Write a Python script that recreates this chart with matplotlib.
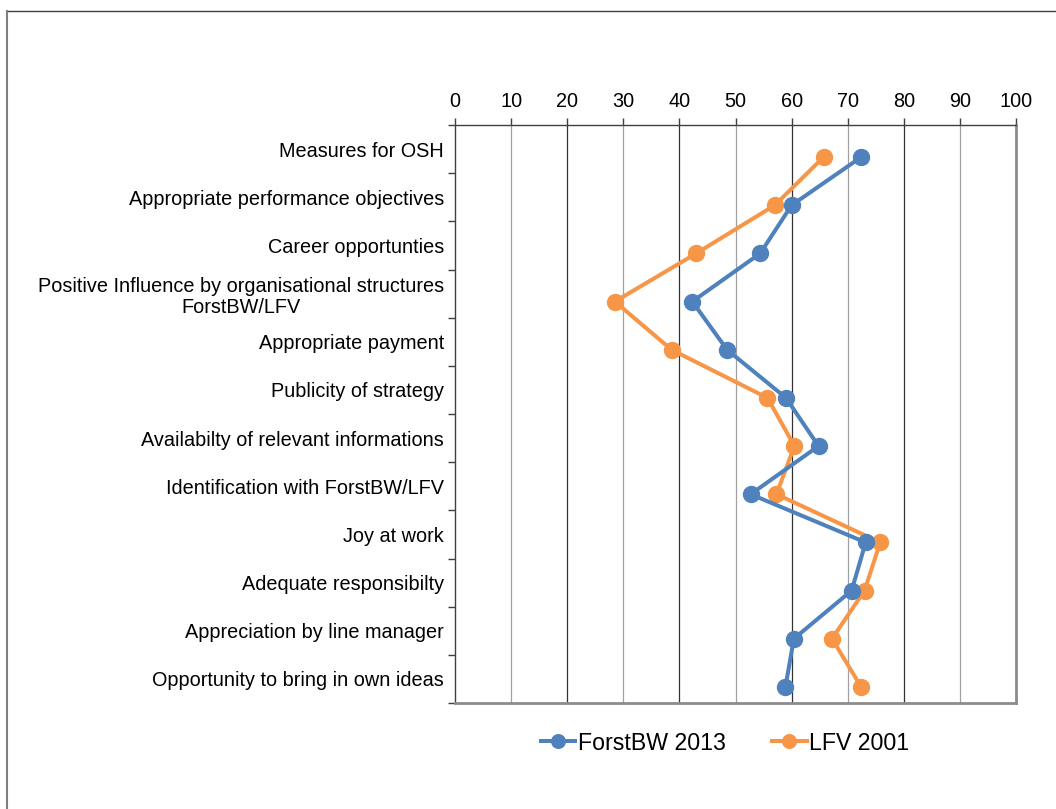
import matplotlib
matplotlib.use("Agg")
import matplotlib.pyplot as plt
from matplotlib.lines import Line2D
import numpy as np

categories = [
    "Measures for OSH",
    "Appropriate performance objectives",
    "Career opportunties",
    "Positive Influence by organisational structures\nForstBW/LFV",
    "Appropriate payment",
    "Publicity of strategy",
    "Availabilty of relevant informations",
    "Identification with ForstBW/LFV",
    "Joy at work",
    "Adequate responsibilty",
    "Appreciation by line manager",
    "Opportunity to bring in own ideas",
]
forstbw_2013 = [72.4, 60.0, 54.4, 42.3, 48.5, 59.0, 64.8, 52.7, 73.2, 70.7, 60.4, 58.9]
lfv_2001 = [65.7, 57.0, 43.0, 28.5, 38.6, 55.7, 60.5, 57.3, 75.8, 73.0, 67.2, 72.4]
series_names = ["ForstBW 2013", "LFV 2001"]
x_ticks = list(range(0, 101, 10))

plt.rcParams['font.family'] = ['Liberation Sans', 'DejaVu Sans']

W, H = 1056, 809
fig = plt.figure(figsize=(W / 100, H / 100), dpi=100)
ax = fig.add_axes([455 / W, 1 - 703 / H, (1016 - 455) / W, (703 - 125) / H])

n = len(categories)
y = np.arange(n)
shift = 0.166  # points sit slightly below the band centre
blue = "#4F81BD"
orange = "#F79646"
ax.plot(forstbw_2013, y, color=blue, lw=2.9, marker='o', ms=11.5, label=series_names[0], zorder=4)
ax.plot(lfv_2001, y, color=orange, lw=2.9, marker='o', ms=11.5, label=series_names[1], zorder=3)

ax.set_xlim(0, 100)
ax.set_ylim(n - 0.5 - shift, -0.5 - shift)

# x axis on top
ax.xaxis.tick_top()
ax.set_xticks(x_ticks)
ax.set_xticklabels([str(t) for t in x_ticks], fontsize=14.3)
ax.tick_params(axis='x', which='major', direction='out', length=5, width=1, color='#404040', pad=5)

# gridlines
for t in x_ticks[1:-1]:
    c = '#333333' if t % 20 == 0 else '#a0a0a0'
    ax.axvline(t, color=c, lw=0.9, zorder=1)

# y ticks: labels at band centres, tick marks at band boundaries
ax.set_yticks(y - shift)
ax.set_yticklabels(categories, fontsize=14.3, multialignment='center', linespacing=1.15)
ax.tick_params(axis='y', which='major', length=0, pad=8)
ax.set_yticks(np.arange(n + 1) - 0.5 - shift, minor=True)
ax.tick_params(axis='y', which='minor', direction='out', length=5, width=1, color='#404040')

for side in ['left', 'top']:
    ax.spines[side].set_color('#404040')
    ax.spines[side].set_linewidth(1)
for side in ['right', 'bottom']:
    ax.spines[side].set_color('#8c8c8c')
    ax.spines[side].set_linewidth(2)

fig.legend(loc='center', bbox_to_anchor=(725 / W, 1 - 743 / H), ncol=2, frameon=False,
           fontsize=16.7, handlelength=1.5, handletextpad=0.1, columnspacing=2.0,
           markerscale=0.85)

# outer frame (top and left visible)
fig.add_artist(Line2D([7 / W, 1], [1 - 11 / H, 1 - 11 / H], transform=fig.transFigure,
                      color='#404040', lw=1))
fig.add_artist(Line2D([7 / W, 7 / W], [0, 1 - 11 / H], transform=fig.transFigure,
                      color='#7f7f7f', lw=1.5))

fig.savefig("out.png", dpi=100)
